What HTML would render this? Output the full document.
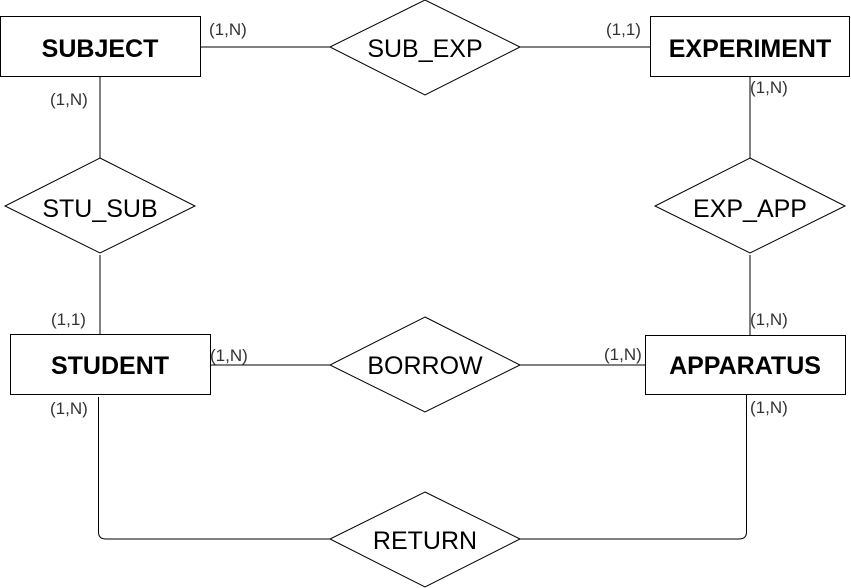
<!DOCTYPE html>
<html><head><meta charset="utf-8"><style>
html,body{margin:0;padding:0;background:#fff;}
svg{display:block;}
.e{font-family:"Liberation Sans",sans-serif;font-weight:bold;font-size:25px;fill:#000;}
.r{font-family:"Liberation Sans",sans-serif;font-size:25px;fill:#000;}
.c{font-family:"Liberation Sans",sans-serif;font-size:17px;fill:#333;}
</style></head><body>
<svg width="851" height="588" viewBox="0 0 851 588" xmlns="http://www.w3.org/2000/svg">
<g fill="none" stroke="#000" stroke-width="1">
<line x1="200" y1="47" x2="330" y2="47"/>
<line x1="520" y1="47" x2="650" y2="47"/>
<line x1="100" y1="77" x2="100" y2="158"/>
<line x1="100" y1="255" x2="100" y2="335"/>
<line x1="750" y1="77" x2="750" y2="158"/>
<line x1="750" y1="255" x2="750" y2="335"/>
<line x1="210" y1="365" x2="330" y2="365"/>
<line x1="520" y1="365" x2="645" y2="365"/>
<path d="M98.5 397 V532 Q98.5 539 106 539 H330"/>
<path d="M746.5 395 V532 Q746.5 539 739 539 H520"/>
<rect x="0.5" y="16.5" width="200" height="60" fill="#fff"/>
<rect x="650.5" y="16.5" width="199" height="60" fill="#fff"/>
<rect x="10.5" y="334.5" width="200" height="60" fill="#fff"/>
<rect x="645.5" y="335.5" width="200" height="59" fill="#fff"/>
<polygon points="425,0 520,47 425,95 330,47" fill="#fff"/>
<polygon points="100,158 195,206 100,253 5,206" fill="#fff"/>
<polygon points="750,158 845,206 750,253 655,206" fill="#fff"/>
<polygon points="425,317 520,365 425,412 330,365" fill="#fff"/>
<polygon points="425,492 520,539 425,587 330,539" fill="#fff"/>
</g>
<g text-anchor="middle">
<text class="e" x="100" y="57">SUBJECT</text>
<text class="e" x="750" y="57">EXPERIMENT</text>
<text class="e" x="110" y="374">STUDENT</text>
<text class="e" x="745" y="374">APPARATUS</text>
<text class="r" x="425" y="57">SUB_EXP</text>
<text class="r" x="100" y="217">STU_SUB</text>
<text class="r" x="750" y="217">EXP_APP</text>
<text class="r" x="425" y="374">BORROW</text>
<text class="r" x="425" y="549">RETURN</text>
</g>
<g>
<text class="c" x="209" y="35">(1,N)</text>
<text class="c" x="606" y="35">(1,1)</text>
<text class="c" x="50" y="105">(1,N)</text>
<text class="c" x="750" y="93">(1,N)</text>
<text class="c" x="51" y="325">(1,1)</text>
<text class="c" x="750" y="325">(1,N)</text>
<text class="c" x="210" y="361">(1,N)</text>
<text class="c" x="604" y="360">(1,N)</text>
<text class="c" x="50" y="414">(1,N)</text>
<text class="c" x="750" y="413">(1,N)</text>
</g>
</svg>
</body></html>
